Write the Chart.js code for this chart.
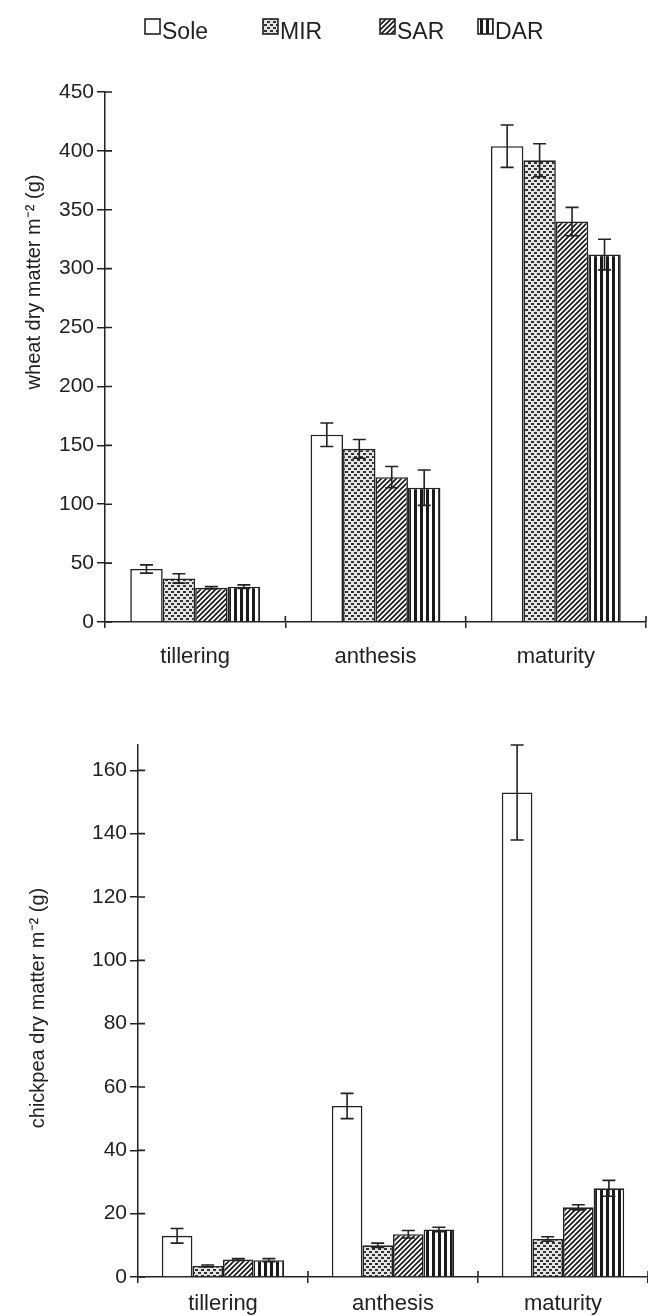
<!DOCTYPE html>
<html>
<head>
<meta charset="utf-8">
<script src="https://cdn.jsdelivr.net/npm/chart.js@4.4.0/dist/chart.umd.min.js"></script>
<style>
  html, body { margin: 0; padding: 0; background: #fff; }
  #wrap { position: relative; width: 648px; height: 1316px; }
  #wheatBox { position: absolute; left: 0; top: 0; width: 648px; height: 690px; }
  #chickBox { position: absolute; left: 0; top: 690px; width: 648px; height: 626px; }
</style>
</head>
<body>
<div id="wrap">
  <div id="wheatBox"><canvas id="wheatChart"></canvas></div>
  <div id="chickBox"><canvas id="chickChart"></canvas></div>
</div>
<script>
// --- data ---
const stages = ['tillering', 'anthesis', 'maturity'];
const treatments = ['Sole', 'MIR', 'SAR', 'DAR'];

// wheat dry matter m-2 (g)
const wheatSole = [45, 159, 404];
const wheatMIR  = [37, 147, 392];
const wheatSAR  = [29, 123, 340];
const wheatDAR  = [30, 114, 312];
const wheatSoleErr = [3.5, 10, 18];
const wheatMIRErr  = [4, 8, 14];
const wheatSARErr  = [1, 9, 12];
const wheatDARErr  = [1.5, 15, 13];
const wheatTicks = [0, 50, 100, 150, 200, 250, 300, 350, 400, 450];

// chickpea dry matter m-2 (g)
const chickSole = [13, 54, 153];
const chickMIR  = [3.5, 10, 12];
const chickSAR  = [5.5, 13.5, 22];
const chickDAR  = [5.3, 15, 28];
const chickSoleErr = [2.3, 4, 15];
const chickMIRErr  = [0.3, 0.7, 0.7];
const chickSARErr  = [0.3, 1.2, 0.8];
const chickDARErr  = [0.5, 0.7, 2.5];
const chickTicks = [0, 20, 40, 60, 80, 100, 120, 140, 160];

// --- fill patterns (white, dotted, hatched, striped) ---
function tile(w, h, draw) {
    const c = document.createElement('canvas');
    c.width = w; c.height = h;
    const g = c.getContext('2d');
    draw(g);
    return g.createPattern(c, 'repeat');
}
const fills = {
    Sole: '#ffffff',
    MIR: tile(6, 6, g => {
        g.fillStyle = '#e4e4e4'; g.fillRect(0, 0, 6, 6);
        g.fillStyle = '#333';
        g.fillRect(0, 0, 3, 2);
        g.fillRect(3, 3, 3, 2);
    }),
    SAR: tile(5, 5, g => {
        g.fillStyle = '#fff'; g.fillRect(0, 0, 5, 5);
        g.strokeStyle = '#1a1a1a'; g.lineWidth = 1.7;
        g.beginPath();
        g.moveTo(0, 5); g.lineTo(5, 0);
        g.moveTo(-1, 1); g.lineTo(1, -1);
        g.moveTo(4, 6); g.lineTo(6, 4);
        g.stroke();
    }),
    DAR: tile(6, 1, g => {
        g.fillStyle = '#fff'; g.fillRect(0, 0, 6, 1);
        g.fillStyle = '#1a1a1a'; g.fillRect(0, 0, 3, 1);
    })
};

const INK = '#222';
const FONT = 'Arial, "Liberation Sans", Helvetica, sans-serif';
Chart.defaults.font.family = FONT;
Chart.defaults.color = INK;
Chart.defaults.animation = false;

// error bars + inward halves of the axis ticks
const errorBars = {
    id: 'errorBars',
    afterDatasetsDraw(chart) {
        const ctx = chart.ctx;
        const y = chart.scales.y, x = chart.scales.x;
        const area = chart.chartArea;
        ctx.save();
        ctx.strokeStyle = INK;
        ctx.lineWidth = 1.6;
        chart.data.datasets.forEach((ds, i) => {
            const meta = chart.getDatasetMeta(i);
            meta.data.forEach((bar, j) => {
                const v = ds.data[j], e = ds.errors[j];
                const top = y.getPixelForValue(v + e);
                const bot = y.getPixelForValue(v - e);
                ctx.beginPath();
                ctx.moveTo(bar.x, top); ctx.lineTo(bar.x, bot);
                ctx.moveTo(bar.x - 6.5, top); ctx.lineTo(bar.x + 6.5, top);
                ctx.moveTo(bar.x - 6.5, bot); ctx.lineTo(bar.x + 6.5, bot);
                ctx.stroke();
            });
        });
        ctx.beginPath();
        y.ticks.forEach(t => {
            const py = y.getPixelForValue(t.value);
            ctx.moveTo(area.left, py); ctx.lineTo(area.left + 7, py);
        });
        const step = (area.right - area.left) / x.ticks.length;
        for (let k = 1; k <= x.ticks.length; k++) {
            const px = area.left + k * step;
            ctx.moveTo(px, area.bottom); ctx.lineTo(px, area.bottom - 6);
        }
        ctx.stroke();
        ctx.restore();
    }
};

// legend row across the top, and the rotated y title
const labels = {
    id: 'labels',
    afterDraw(chart, args, opts) {
        const ctx = chart.ctx;
        ctx.save();
        ctx.fillStyle = INK;
        if (opts.title) {
            ctx.save();
            ctx.font = opts.title.size + 'px ' + FONT;
            ctx.textAlign = 'center';
            ctx.textBaseline = 'middle';
            ctx.translate(opts.title.x, opts.title.y);
            ctx.rotate(-Math.PI / 2);
            ctx.fillText(opts.title.text, 0, 0);
            ctx.restore();
        }
        if (opts.legend) {
            const lg = opts.legend;
            ctx.font = '23px ' + FONT;
            ctx.textBaseline = 'alphabetic';
            chart.data.datasets.forEach((ds, i) => {
                const bx = lg.xs[i];
                ctx.fillStyle = ds.backgroundColor;
                ctx.fillRect(bx, lg.boxTop, 15, 15);
                ctx.strokeStyle = INK; ctx.lineWidth = 1.6;
                ctx.strokeRect(bx, lg.boxTop, 15, 15);
                ctx.fillStyle = INK;
                ctx.fillText(ds.label, bx + 17, lg.baseline);
            });
        }
        ctx.restore();
    }
};

function datasets(vals, errs) {
    return treatments.map((t, i) => ({
        label: t,
        data: vals[i],
        errors: errs[i],
        backgroundColor: fills[t],
        borderColor: INK,
        borderWidth: 1.6,
        categoryPercentage: 0.72,
        barPercentage: 1
    }));
}

function makeChart(id, cfg) {
    return new Chart(document.getElementById(id), {
        type: 'bar',
        data: { labels: stages, datasets: datasets(cfg.vals, cfg.errs) },
        options: {
            responsive: true,
            maintainAspectRatio: false,
            layout: { padding: cfg.padding },
            plugins: {
                legend: { display: false },
                tooltip: { enabled: false },
                labels: { title: cfg.title, legend: cfg.legend }
            },
            scales: {
                x: {
                    offset: true,
                    grid: { offset: true, drawOnChartArea: false, tickLength: 6, color: INK, lineWidth: 1.5 },
                    border: { color: INK, width: 1.5 },
                    ticks: { font: { size: 22 }, padding: cfg.xPad, color: INK },
                    afterFit: s => { s.height = cfg.xHeight; }
                },
                y: {
                    min: 0,
                    max: cfg.yMax,
                    afterBuildTicks: s => { s.ticks = cfg.ticks.map(v => ({ value: v })); },
                    grid: { drawOnChartArea: false, tickLength: 8, color: INK, lineWidth: 1.5 },
                    border: { color: INK, width: 1.5 },
                    ticks: { font: { size: 21 }, padding: 3, color: INK },
                    afterFit: s => { s.width = cfg.yWidth; }
                }
            }
        },
        plugins: [errorBars, labels]
    });
}

makeChart('wheatChart', {
    vals: [wheatSole, wheatMIR, wheatSAR, wheatDAR],
    errs: [wheatSoleErr, wheatMIRErr, wheatSARErr, wheatDARErr],
    ticks: wheatTicks,
    yMax: 450,
    title: { text: 'wheat dry matter m\u207B\u00B2 (g)', size: 20, x: 34, y: 282 },
    padding: { top: 92, right: 2, bottom: 0, left: 0 },
    xHeight: 68,
    xPad: 16,
    yWidth: 105,
    legend: { xs: [145, 263, 380, 478], boxTop: 19, baseline: 39 }
});

makeChart('chickChart', {
    vals: [chickSole, chickMIR, chickSAR, chickDAR],
    errs: [chickSoleErr, chickMIRErr, chickSARErr, chickDARErr],
    ticks: chickTicks,
    yMax: 168,
    title: { text: 'chickpea dry matter m\u207B\u00B2 (g)', size: 20, x: 38, y: 318 },
    padding: { top: 55, right: 0, bottom: 0, left: 0 },
    xHeight: 39,
    xPad: 8,
    yWidth: 138
});
</script>
</body>
</html>
